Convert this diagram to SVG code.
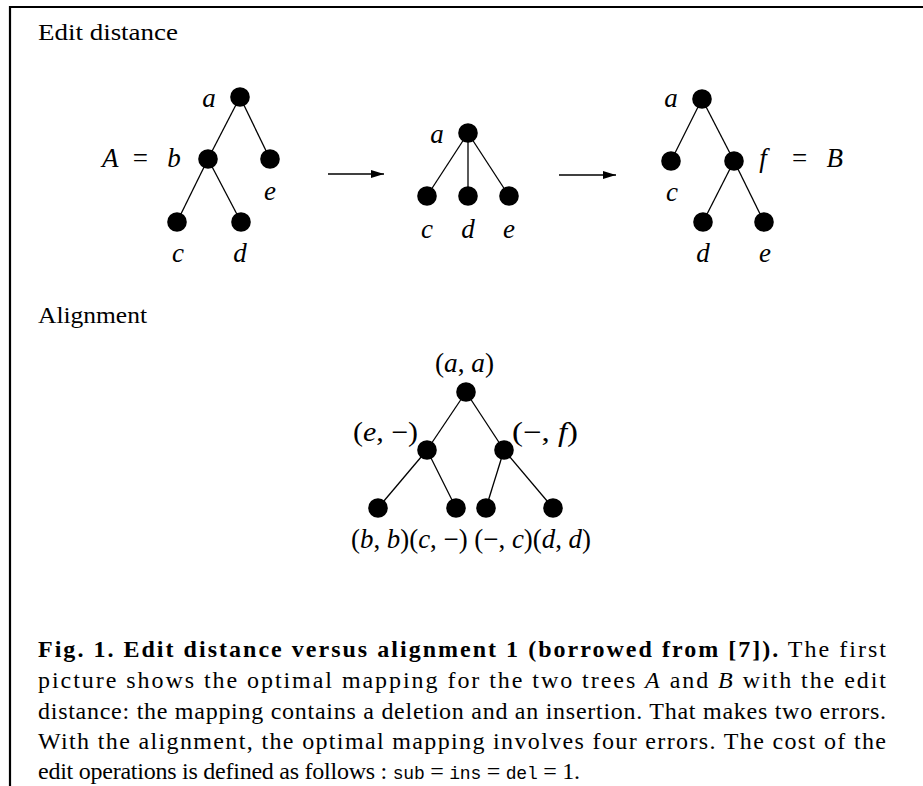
<svg xmlns="http://www.w3.org/2000/svg" width="923" height="786" viewBox="0 0 923 786">
<style>
.bg{fill:#fff}
.frame{stroke:#000;stroke-width:2.2;fill:none}
.n{fill:#000}
.ed{stroke:#000;stroke-width:1.3;fill:none}
.t{font-family:"Liberation Serif","DejaVu Serif",serif;font-size:24px;fill:#000}
.l{font-size:27px}
.i{font-style:italic}
.c{text-anchor:middle}
.b{font-weight:bold}
.mono{font-family:"Liberation Mono","DejaVu Sans Mono",monospace;font-size:18px}
</style>
<defs>
<marker id="ah" markerUnits="userSpaceOnUse" markerWidth="14" markerHeight="10" refX="13" refY="5" orient="auto">
<path d="M0,1 L13,5 L0,9 Z" fill="#000"/>
</marker>
</defs>
<rect class="bg" x="0" y="0" width="923" height="786"/>
<path class="frame" d="M10,786 V7 H923"/>

<text class="t" x="38" y="40" textLength="140" lengthAdjust="spacingAndGlyphs">Edit distance</text>
<text class="t" x="38" y="323" textLength="109" lengthAdjust="spacingAndGlyphs">Alignment</text>

<g id="connectors">
<line class="ed" x1="240" y1="97" x2="208" y2="159"/>
<line class="ed" x1="240" y1="97" x2="270" y2="159"/>
<line class="ed" x1="208" y1="159" x2="177" y2="222"/>
<line class="ed" x1="208" y1="159" x2="241" y2="222"/>
<line class="ed" x1="468" y1="133" x2="427" y2="196"/>
<line class="ed" x1="468" y1="133" x2="468" y2="196"/>
<line class="ed" x1="468" y1="133" x2="509" y2="196"/>
<line class="ed" x1="702" y1="99" x2="671" y2="161"/>
<line class="ed" x1="702" y1="99" x2="734" y2="161"/>
<line class="ed" x1="734" y1="161" x2="703" y2="222"/>
<line class="ed" x1="734" y1="161" x2="764" y2="222"/>
<line class="ed" x1="328" y1="174" x2="384" y2="174" marker-end="url(#ah)"/>
<line class="ed" x1="559" y1="175" x2="616" y2="175" marker-end="url(#ah)"/>
<line class="ed" x1="466" y1="392" x2="427" y2="450"/>
<line class="ed" x1="466" y1="392" x2="504" y2="450"/>
<line class="ed" x1="427" y1="450" x2="378" y2="508"/>
<line class="ed" x1="427" y1="450" x2="456" y2="508"/>
<line class="ed" x1="504" y1="450" x2="486" y2="508"/>
<line class="ed" x1="504" y1="450" x2="553" y2="508"/>
</g>

<text class="t l i" x="102" y="167">A</text>
<text class="t l" x="148" y="167" text-anchor="end">=</text>
<g id="A_a"><circle class="n" cx="240" cy="97" r="9.8"/><text class="t l i c" x="209" y="107">a</text></g>
<g id="A_b"><circle class="n" cx="208" cy="159" r="9.8"/><text class="t l i c" x="174" y="167">b</text></g>
<g id="A_e"><circle class="n" cx="270" cy="159" r="9.8"/><text class="t l i c" x="270" y="200">e</text></g>
<g id="A_c"><circle class="n" cx="177" cy="222" r="9.8"/><text class="t l i c" x="178" y="262">c</text></g>
<g id="A_d"><circle class="n" cx="241" cy="222" r="9.8"/><text class="t l i c" x="240" y="262">d</text></g>

<g id="M_a"><circle class="n" cx="468" cy="133" r="9.8"/><text class="t l i c" x="437" y="143">a</text></g>
<g id="M_c"><circle class="n" cx="427" cy="196" r="9.8"/><text class="t l i c" x="427" y="238">c</text></g>
<g id="M_d"><circle class="n" cx="468" cy="196" r="9.8"/><text class="t l i c" x="468" y="238">d</text></g>
<g id="M_e"><circle class="n" cx="509" cy="196" r="9.8"/><text class="t l i c" x="509" y="238">e</text></g>

<g id="B_a"><circle class="n" cx="702" cy="99" r="9.8"/><text class="t l i c" x="671" y="107">a</text></g>
<g id="B_c"><circle class="n" cx="671" cy="161" r="9.8"/><text class="t l i c" x="672" y="201">c</text></g>
<g id="B_f"><circle class="n" cx="734" cy="161" r="9.8"/><text class="t l i c" x="763" y="167">f</text></g>
<g id="B_d"><circle class="n" cx="703" cy="222" r="9.8"/><text class="t l i c" x="703" y="262">d</text></g>
<g id="B_e"><circle class="n" cx="764" cy="222" r="9.8"/><text class="t l i c" x="765" y="262">e</text></g>
<text class="t l" x="792" y="167">=</text>
<text class="t l i" x="843" y="167" text-anchor="end">B</text>

<g id="AL_root"><circle class="n" cx="466" cy="392" r="9.8"/><text class="t l" x="435" y="372" textLength="59" lengthAdjust="spacingAndGlyphs">(<tspan class="i">a</tspan>, <tspan class="i">a</tspan>)</text></g>
<g id="AL_left"><circle class="n" cx="427" cy="450" r="9.8"/><text class="t l" x="353" y="441" textLength="65" lengthAdjust="spacingAndGlyphs">(<tspan class="i">e</tspan>, −)</text></g>
<g id="AL_right"><circle class="n" cx="504" cy="450" r="9.8"/><text class="t l" x="512" y="441" textLength="66" lengthAdjust="spacingAndGlyphs">(−, <tspan class="i">f</tspan>)</text></g>
<g id="AL_bb"><circle class="n" cx="378" cy="508" r="9.8"/></g>
<g id="AL_c-"><circle class="n" cx="456" cy="508" r="9.8"/></g>
<g id="AL_-c"><circle class="n" cx="486" cy="508" r="9.8"/></g>
<g id="AL_dd"><circle class="n" cx="553" cy="508" r="9.8"/></g>
<text class="t l" x="351" y="548" textLength="240" lengthAdjust="spacingAndGlyphs">(<tspan class="i">b</tspan>, <tspan class="i">b</tspan>)(<tspan class="i">c</tspan>, −) (−, <tspan class="i">c</tspan>)(<tspan class="i">d</tspan>, <tspan class="i">d</tspan>)</text>

<g id="caption">
<text class="t" x="38" y="657" textLength="848" lengthAdjust="spacing"><tspan class="b">Fig. 1. Edit distance versus alignment 1 (borrowed from [7]).</tspan> The first</text>
<text class="t" x="38" y="688" textLength="848" lengthAdjust="spacing">picture shows the optimal mapping for the two trees <tspan class="i">A</tspan> and <tspan class="i">B</tspan> with the edit</text>
<text class="t" x="38" y="719" textLength="848" lengthAdjust="spacing">distance: the mapping contains a deletion and an insertion. That makes two errors.</text>
<text class="t" x="38" y="749" textLength="848" lengthAdjust="spacing">With the alignment, the optimal mapping involves four errors. The cost of the</text>
<text class="t" x="38" y="779" textLength="542" lengthAdjust="spacing">edit operations is defined as follows : <tspan class="mono">sub</tspan> = <tspan class="mono">ins</tspan> = <tspan class="mono">del</tspan> = 1.</text>
</g>
</svg>
